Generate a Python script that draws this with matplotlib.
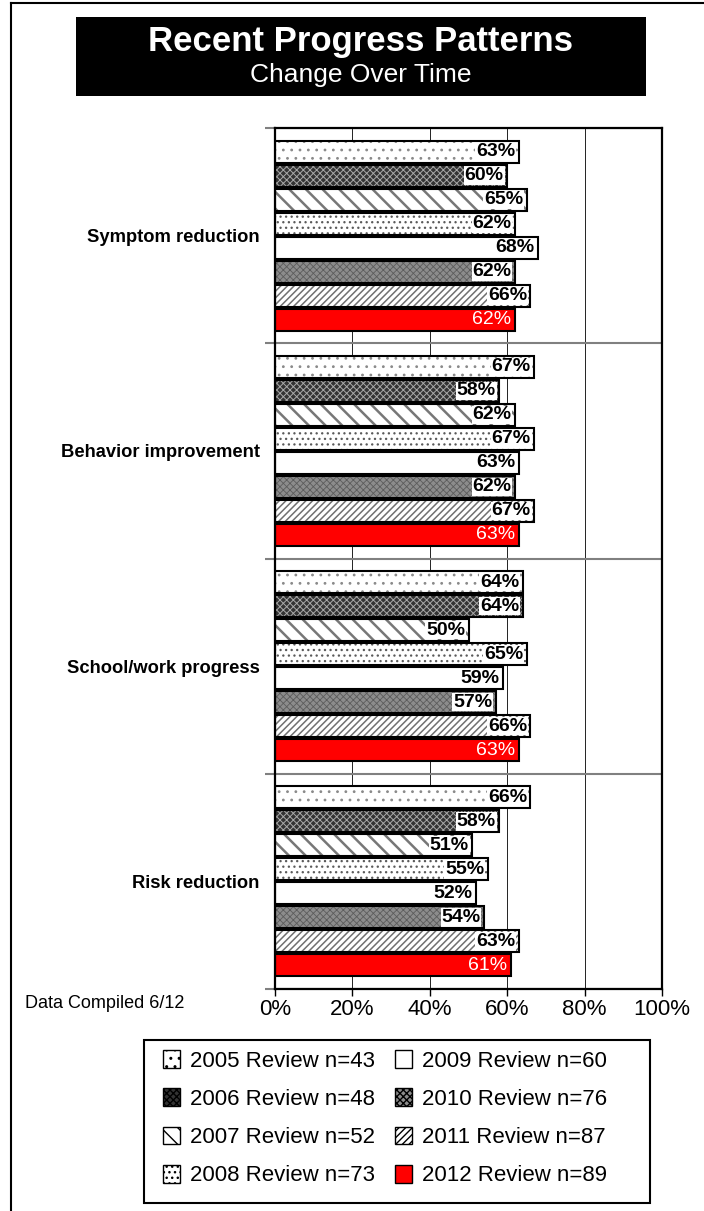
import numpy as np
import matplotlib.pyplot as plt
from matplotlib.patches import Patch, Rectangle
from matplotlib.lines import Line2D

plt.rcParams['font.family'] = ['Liberation Sans', 'DejaVu Sans']

categories = ['Symptom reduction', 'Behavior improvement', 'School/work progress', 'Risk reduction']
series_names = ['2005 Review n=43', '2006 Review n=48', '2007 Review n=52', '2008 Review n=73',
                '2009 Review n=60', '2010 Review n=76', '2011 Review n=87', '2012 Review n=89']
# one value per review year, in the order of series_names
symptom = [63, 60, 65, 62, 68, 62, 66, 62]
behavior = [67, 58, 62, 67, 63, 62, 67, 63]
school = [64, 64, 50, 65, 59, 57, 66, 63]
risk = [66, 58, 51, 55, 52, 54, 63, 61]
x_ticks = [0, 20, 40, 60, 80, 100]

values = np.array([symptom, behavior, school, risk])

# (face colour, hatch, hatch colour, hatch width)
styles = [
    ('white', '..', '#8a8a8a', 0.8),
    ('#333333', 'xxxxx', '#a8a8a8', 0.7),
    ('white', '\\\\', '#777777', 1.8),
    ('white', '...', '#5a5a5a', 0.9),
    ('white', '', 'black', 1.0),
    ('#8c8c8c', 'xxxxx', '#5c5c5c', 0.6),
    ('white', '/////', '#707070', 1.1),
    ('#ff0000', '', 'black', 1.0),
]

fig = plt.figure(figsize=(7.04, 12.11), dpi=100)
ax = fig.add_axes([275/704, 1 - 989/1211, 387/704, 861/1211])

pitch = 0.1115
bar_h = 0.103
for j in range(len(series_names)):
    face, hatch, hcol, hlw = styles[j]
    ys = np.arange(len(categories)) - 0.5 + 0.054 + (j + 0.5) * pitch
    with plt.rc_context({'hatch.linewidth': hlw}):
        bars = ax.barh(ys, values[:, j], height=bar_h, color=face, hatch=hatch,
                       edgecolor=hcol, linewidth=0, zorder=2)
    for b in bars:
        if hasattr(b, 'set_hatch_linewidth'):
            b.set_hatch_linewidth(hlw)
    ax.barh(ys, values[:, j], height=bar_h, fill=False, edgecolor='black',
            linewidth=1.5, zorder=4)
    for y, v in zip(ys, values[:, j]):
        if j == 7:
            ax.annotate(f'{v}%', (v, y), xytext=(-2.5, 0), textcoords='offset points',
                        ha='right', va='center', fontsize=14, color='white', zorder=5)
        else:
            ax.annotate(f'{v}%', (v, y), xytext=(-2.5, 0), textcoords='offset points',
                        ha='right', va='center', fontsize=14, fontweight='bold',
                        color='black', zorder=3,
                        bbox=dict(facecolor='white', edgecolor='none', pad=0.5))

ax.set_xlim(0, 100)
ax.set_ylim(3.5, -0.45)
ax.set_xticks(x_ticks)
ax.set_xticklabels([f'{t}%' for t in x_ticks], fontsize=16)
ax.tick_params(axis='x', direction='out', length=5, width=1, pad=2)
ax.set_yticks(range(len(categories)))
ax.set_yticklabels(categories, fontsize=13.2, fontweight='bold')
ax.tick_params(axis='y', which='major', length=0, pad=11)
ax.set_yticks([-0.5, 0.5, 1.5, 2.5, 3.5], minor=True)
ax.tick_params(axis='y', which='minor', length=7, width=1.5, color='#808080', direction='out')
ax.yaxis.grid(True, which='minor', color='#808080', linewidth=1.5)
ax.xaxis.grid(True, which='major', color='#222222', linewidth=0.7)
ax.set_axisbelow(True)
for s in ax.spines.values():
    s.set_linewidth(1.6)

# title block
fig.patches.append(Rectangle((76/704, 1 - 96/1211), 570/704, 79/1211,
                             transform=fig.transFigure, facecolor='black', edgecolor='none'))
fig.text(361/704, 1 - 41/1211, 'Recent Progress Patterns', color='white', fontsize=25,
         fontweight='bold', ha='center', va='center')
fig.text(361/704, 1 - 75/1211, 'Change Over Time', color='white', fontsize=19,
         ha='center', va='center')

# outer frame
fig.lines.append(Line2D([11/704, 11/704], [0, 1 - 3/1211], transform=fig.transFigure,
                        color='black', linewidth=1.5))
fig.lines.append(Line2D([11/704, 1], [1 - 3/1211, 1 - 3/1211], transform=fig.transFigure,
                        color='black', linewidth=1.5))

fig.text(25/704, 1 - 1003/1211, 'Data Compiled 6/12', fontsize=13, va='center', ha='left')

handles = [Patch(facecolor=st[0], hatch=st[1], edgecolor='black', linewidth=1) for st in styles]
fig.legend(handles, series_names, ncol=2, loc='upper left',
           bbox_to_anchor=(163/704, 1 - 1050/1211), frameon=False, borderpad=0,
           borderaxespad=0, fontsize=16, handlelength=0.77, handleheight=0.86,
           handletextpad=0.45, columnspacing=0.9, labelspacing=0.75)
fig.patches.append(Rectangle((144/704, 1 - 1203/1211), 506/704, 163/1211,
                             transform=fig.transFigure, fill=False, edgecolor='black',
                             linewidth=1.5))

fig.savefig('out.png', dpi=100)
